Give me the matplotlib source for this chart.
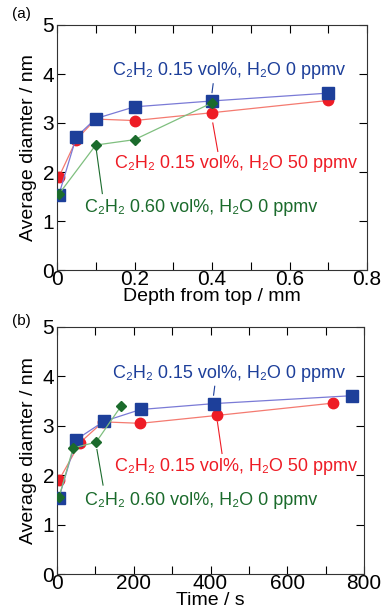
import matplotlib
matplotlib.use("Agg")
import matplotlib.pyplot as plt
from matplotlib.ticker import MultipleLocator, FuncFormatter

plt.rcParams['font.family'] = ['Liberation Sans', 'DejaVu Sans']

# Panel (a): depth from top (mm)
depth_blue = [0.005, 0.05, 0.10, 0.20, 0.40, 0.70]
diam_blue_a = [1.54, 2.72, 3.09, 3.33, 3.45, 3.61]
depth_red = [0.005, 0.05, 0.10, 0.20, 0.40, 0.70]
diam_red_a = [1.90, 2.66, 3.08, 3.05, 3.21, 3.46]
depth_green = [0.005, 0.10, 0.20, 0.40]
diam_green_a = [1.55, 2.55, 2.66, 3.41]

# Panel (b): time (s)
time_blue = [5, 50, 122, 218, 410, 770]
diam_blue_b = [1.54, 2.72, 3.09, 3.33, 3.45, 3.61]
time_red = [5, 60, 120, 217, 417, 720]
diam_red_b = [1.90, 2.66, 3.08, 3.05, 3.21, 3.46]
time_green = [5, 42, 102, 168]
diam_green_b = [1.55, 2.55, 2.67, 3.41]

lbl_blue = "C\u2082H\u2082 0.15 vol%, H\u2082O 0 ppmv"
lbl_red = "C\u2082H\u2082 0.15 vol%, H\u2082O 50 ppmv"
lbl_green = "C\u2082H\u2082 0.60 vol%, H\u2082O 0 ppmv"

c_blue, cl_blue = '#1d3f9a', '#7a7ad6'
c_red, cl_red = '#ee1c25', '#f47a70'
c_green, cl_green = '#1b6b2c', '#7fbf7f'

fig = plt.figure(figsize=(3.82, 6.10), dpi=100)
ax1 = fig.add_axes([57/382, 1-270/610, 310/382, 245/610])
ax2 = fig.add_axes([57/382, 1-574/610, 307/382, 247/610])

def fmt(v, pos):
    if abs(v) < 1e-9:
        return '0'
    return ('%g' % v) if v >= 1 else ('%.1f' % v)

def style(ax, xmax, xmajor, xminor, xlabel):
    ax.set_xlim(0, xmax)
    ax.set_ylim(0, 5)
    ax.xaxis.set_major_locator(MultipleLocator(xmajor))
    ax.xaxis.set_minor_locator(MultipleLocator(xminor))
    ax.xaxis.set_major_formatter(FuncFormatter(fmt))
    ax.yaxis.set_major_locator(MultipleLocator(1))
    ax.tick_params(which='both', direction='in', top=True, right=True,
                   length=6, width=0.8, labelsize=15)
    ax.tick_params(axis='x', pad=0)
    ax.tick_params(axis='y', pad=2)
    ax.set_xlabel(xlabel, fontsize=14, labelpad=-1)
    ax.set_ylabel('Average diamter / nm', fontsize=14, labelpad=4)
    for s in ax.spines.values():
        s.set_linewidth(0.8)
        s.set_color('#333333')

def series(ax, xb, yb, xr, yr, xg, yg):
    ax.plot(xb, yb, '-', color=cl_blue, lw=0.9, marker='s', ms=8,
            mfc=c_blue, mec=c_blue, zorder=3)
    ax.plot(xr, yr, '-', color=cl_red, lw=0.9, marker='o', ms=7.5,
            mfc=c_red, mec=c_red, zorder=2)
    ax.plot(xg, yg, '-', color=cl_green, lw=0.9, marker='D', ms=5.5,
            mfc=c_green, mec=c_green, zorder=4)

fs = 13
# Panel (a)
style(ax1, 0.8, 0.2, 0.1, 'Depth from top / mm')
series(ax1, depth_blue, diam_blue_a, depth_red, diam_red_a, depth_green, diam_green_a)
ax1.text(0.443, 4.07, lbl_blue, color=c_blue, fontsize=fs, ha='center', va='center')
ax1.plot([0.403, 0.400], [3.8, 3.62], color=c_blue, lw=0.8)
ax1.text(0.462, 2.18, lbl_red, color=c_red, fontsize=fs, ha='center', va='center')
ax1.plot([0.402, 0.415], [3.0, 2.42], color=c_red, lw=0.8)
ax1.text(0.371, 1.27, lbl_green, color=c_green, fontsize=fs, ha='center', va='center')
ax1.plot([0.102, 0.117], [2.42, 1.56], color=c_green, lw=0.8)
fig.text(12/382, 1-18/610, '(a)', fontsize=11)

# Panel (b)
style(ax2, 800, 200, 100, 'Time / s')
series(ax2, time_blue, diam_blue_b, time_red, diam_red_b, time_green, diam_green_b)
ax2.text(448, 4.06, lbl_blue, color=c_blue, fontsize=fs, ha='center', va='center')
ax2.plot([411, 408], [3.8, 3.62], color=c_blue, lw=0.8)
ax2.text(466, 2.18, lbl_red, color=c_red, fontsize=fs, ha='center', va='center')
ax2.plot([418, 430], [3.08, 2.44], color=c_red, lw=0.8)
ax2.text(375, 1.48, lbl_green, color=c_green, fontsize=fs, ha='center', va='center')
ax2.plot([104, 120], [2.52, 1.8], color=c_green, lw=0.8)
fig.text(12/382, 1-325/610, '(b)', fontsize=11)

fig.savefig('out.png', dpi=100)
